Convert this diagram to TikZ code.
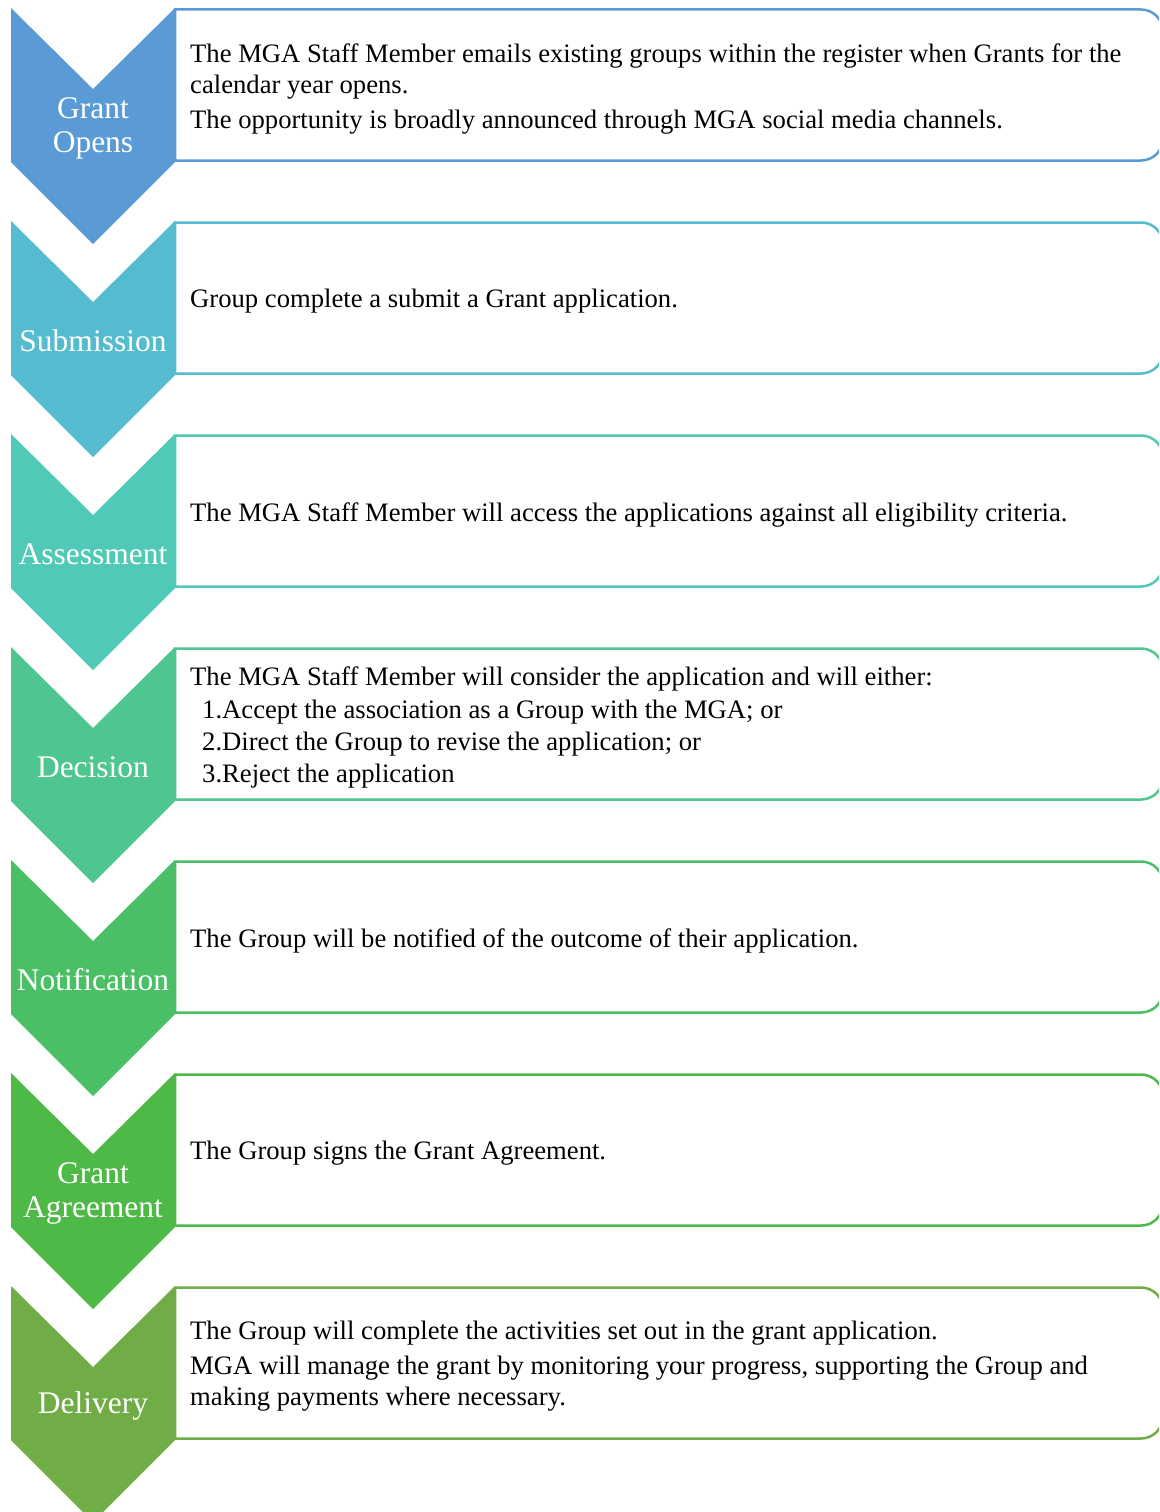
\documentclass[tikz,border=0pt]{standalone}
\usepackage{fontspec}
\setmainfont{Liberation Serif}
\definecolor{stA}{HTML}{5B9BD5}
\definecolor{stB}{HTML}{55BBCE}
\definecolor{stC}{HTML}{50C9B6}
\definecolor{stD}{HTML}{4FC58F}
\definecolor{stE}{HTML}{4ABF65}
\definecolor{stF}{HTML}{4FB947}
\definecolor{stG}{HTML}{70AD47}
% one stage: #1 name, #2 top y, #3 colour, #4 chevron label, #5 box text
\newcommand\flowstage[5]{%
  % text box, square on the left, rounded on the right
  \draw[boxline, draw=#3] (175,#2+1.5) -- (1141,#2+1.5)
     arc[start angle=-90, end angle=0, radius=22] -- (1163,#2+130.5)
     arc[start angle=0, end angle=90, radius=22] -- (175,#2+152.5) -- cycle;
  % chevron
  \fill[#3] (11,#2) -- (93,#2+81) -- (175,#2) -- (175,#2+154)
     -- (93,#2+236) -- (11,#2+154) -- cycle;
  \node[steplabel] (lbl#1) at (93,#2+120) {#4};
  \node[steptext] (txt#1) at (190,#2+80.5) {#5};
}
\begin{document}
\begin{tikzpicture}[x=1pt, y=-1pt,
  boxline/.style={line width=2.5pt, fill=white},
  steplabel/.style={text=white, font=\fontsize{31.5}{34}\selectfont, align=center, inner sep=0pt},
  steptext/.style={text=black, font=\fontsize{26.65}{31}\selectfont, align=left, anchor=west, inner sep=0pt}]
\useasboundingbox (0,0) rectangle (1159,1512);
\clip (0,0) rectangle (1159,1512);

\flowstage{open}{8}{stA}{Grant\\Opens}{The MGA Staff Member emails existing groups within the register when Grants for the\\calendar year opens.\\[4pt]The opportunity is broadly announced through MGA social media channels.}
\flowstage{submit}{221}{stB}{Submission}{Group complete a submit a Grant application.}
\flowstage{assess}{434}{stC}{Assessment}{The MGA Staff Member will access the applications against all eligibility criteria.}
\flowstage{decide}{647}{stD}{Decision}{The MGA Staff Member will consider the application and will either:\\[2pt]\hspace*{12pt}1.Accept the association as a Group with the MGA; or\\[1pt]\hspace*{12pt}2.Direct the Group to revise the application; or\\[1pt]\hspace*{12pt}3.Reject the application}
\flowstage{notify}{860}{stE}{Notification}{The Group will be notified of the outcome of their application.}
\flowstage{agree}{1073}{stF}{Grant\\Agreement}{The Group signs the Grant Agreement.}
\flowstage{deliver}{1286}{stG}{Delivery}{The Group will complete the activities set out in the grant application.\\[4pt]MGA will manage the grant by monitoring your progress, supporting the Group and\\making payments where necessary.}
\end{tikzpicture}
\end{document}
